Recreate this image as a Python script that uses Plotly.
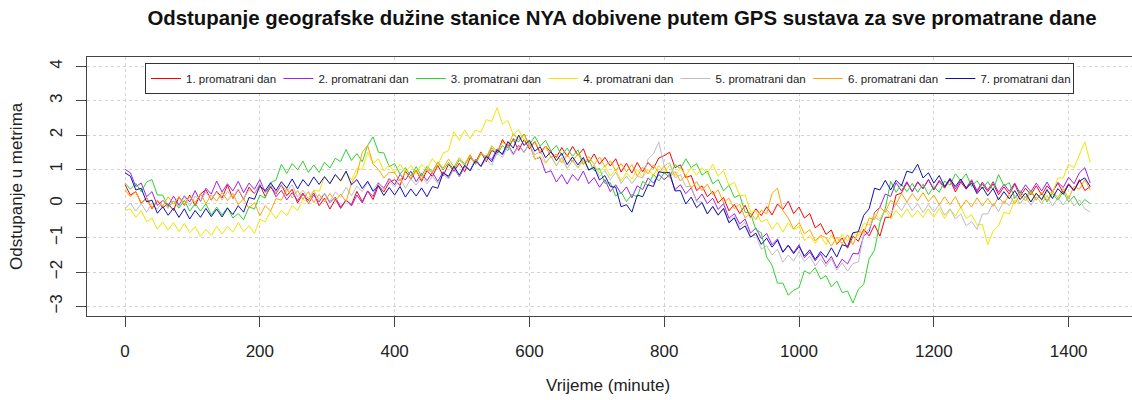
import plotly.graph_objects as go

minutes = list(range(0, 1440, 8))

day1 = [0.55, 0.25, 0.35, 0.01, 0.17, -0.15, 0.09, -0.12, 0.0, -0.2,
        0.2, -0.05, 0.25, -0.06, 0.28, 0.41, 0.1, 0.36, 0.17, 0.54,
        0.15, 0.41, 0.12, 0.48, 0.29, 0.55, 0.21, 0.48, 0.29, 0.55,
        0.23, 0.42, 0.02, 0.28, 0.09, 0.31, -0.06, 0.16, -0.16, 0.13,
        -0.14, 0.1, -0.03, 0.36, 0.06, 0.37, 0.12, 0.53, 0.34, 0.62,
        0.7, 0.53, 0.96, 0.71, 0.98, 0.65, 0.97, 0.79, 1.12, 0.81,
        1.15, 0.94, 1.18, 0.93, 1.34, 1.2, 1.51, 1.22, 1.55, 1.46,
        1.87, 1.62, 1.88, 1.55, 1.87, 1.6, 1.81, 1.47, 1.68, 1.49,
        1.35, 1.64, 1.38, 1.67, 1.41, 1.6, 1.2, 1.45, 1.15, 1.35,
        1.1, 1.31, 0.92, 1.18, 0.89, 1.2, 0.93, 1.2, 1.03, 1.33,
        1.4, 1.5, 1.05, 1.13, 0.76, 0.82, 0.38, 0.52, 0.2, 0.36,
        0.02, 0.18, -0.21, -0.02, -0.29, -0.05, -0.4, -0.15, -0.35, -0.09,
        -0.33, -0.01, -0.17, 0.07, -0.29, -0.1, -0.42, -0.29, -0.71, -0.58,
        -0.9, -0.77, -1.19, -1.0, -1.3, -0.95, -1.1, -0.75, -0.94, -0.62,
        -0.95, -0.4, -0.4, 0.25, 0.31, 0.61, 0.35, 0.64, 0.45, 0.7,
        0.4, 0.65, 0.45, 0.7, 0.34, 0.63, 0.42, 0.66, 0.34, 0.58,
        0.35, 0.58, 0.26, 0.49, 0.28, 0.57, 0.21, 0.45, 0.26, 0.52,
        0.25, 0.52, 0.34, 0.6, 0.32, 0.58, 0.39, 0.7, 0.38, 0.5]

day2 = [1.0, 0.9, 0.5, 0.6, 0.2, 0.35, -0.05, 0.1, -0.07, 0.22,
        -0.05, 0.23, 0.05, 0.38, 0.06, 0.45, 0.28, 0.66, 0.34, 0.58,
        0.37, 0.65, 0.32, 0.6, 0.42, 0.7, 0.33, 0.52, 0.2, 0.39,
        0.11, 0.32, 0.09, 0.31, 0.0, 0.25, 0.05, 0.3, 0.03, 0.19,
        -0.1, 0.11, -0.07, 0.25, 0.02, 0.37, 0.21, 0.6, 0.45, 0.73,
        0.55, 0.85, 0.69, 0.95, 0.64, 0.88, 0.67, 0.91, 0.65, 0.93,
        0.75, 1.04, 0.78, 1.09, 0.97, 1.3, 1.08, 1.41, 1.28, 1.6,
        1.42, 1.73, 1.45, 1.7, 1.5, 1.75, 1.3, 1.35, 0.9, 0.96,
        0.63, 0.85, 0.57, 0.85, 0.67, 0.95, 0.58, 0.76, 0.48, 0.7,
        0.35, 0.55, 0.29, 0.49, 0.17, 0.52, 0.41, 0.75, 0.6, 0.85,
        0.7, 0.84, 0.41, 0.55, 0.29, 0.46, 0.08, 0.28, 0.0, 0.16,
        -0.17, 0.0, -0.43, -0.29, -0.59, -0.45, -0.86, -0.71, -1.02, -0.87,
        -1.2, -1.03, -1.41, -1.21, -1.43, -1.2, -1.58, -1.41, -1.67, -1.46,
        -1.75, -1.54, -1.88, -1.62, -1.76, -1.45, -1.47, -0.94, -0.82, -0.26,
        -0.1, 0.28, 0.21, 0.61, 0.37, 0.64, 0.35, 0.62, 0.43, 0.7,
        0.42, 0.68, 0.48, 0.74, 0.43, 0.68, 0.46, 0.7, 0.38, 0.63,
        0.4, 0.64, 0.33, 0.57, 0.36, 0.6, 0.3, 0.55, 0.35, 0.6,
        0.37, 0.63, 0.34, 0.62, 0.47, 0.77, 0.58, 0.9, 1.05, 0.6]

day3 = [0.6, 0.42, 0.59, 0.35, 0.63, 0.7, 0.25, 0.25, -0.1, 0.08,
        -0.13, 0.1, -0.22, 0.0, -0.22, 0.0, -0.33, -0.1, -0.33, -0.11,
        -0.42, -0.29, -0.47, -0.09, -0.16, 0.25, 0.16, 0.61, 0.69, 1.15,
        0.88, 1.17, 0.99, 1.24, 0.91, 1.13, 0.91, 1.21, 1.04, 1.32,
        1.23, 1.58, 1.26, 1.46, 1.22, 1.7, 1.95, 1.5, 1.48, 1.08,
        1.17, 0.86, 1.05, 0.8, 1.08, 0.81, 1.09, 0.93, 1.21, 0.98,
        1.2, 0.99, 1.28, 1.12, 1.41, 1.15, 1.46, 1.32, 1.63, 1.44,
        1.7, 1.55, 1.9, 1.8, 2.03, 1.72, 1.96, 1.68, 1.85, 1.53,
        1.7, 1.41, 1.62, 1.38, 1.57, 1.15, 1.28, 0.96, 1.03, 0.59,
        0.61, 0.22, 0.34, 0.06, 0.27, 0.2, 0.65, 0.53, 0.86, 0.66,
        0.9, 0.77, 1.14, 1.02, 1.31, 1.05, 1.17, 0.83, 0.95, 0.58,
        0.7, 0.37, 0.54, 0.18, 0.25, -0.25, -0.28, -0.76, -0.85, -1.56,
        -1.8, -2.32, -2.32, -2.67, -2.53, -2.45, -1.96, -2.05, -1.87, -2.2,
        -2.1, -2.43, -2.26, -2.6, -2.55, -2.9, -2.5, -2.35, -1.61, -1.36,
        -0.55, -0.15, 0.65, 0.33, 0.56, 0.35, 0.59, 0.33, 0.57, 0.26,
        0.5, 0.33, 0.66, 0.54, 0.87, 0.67, 0.87, 0.5, 0.67, 0.43,
        0.64, 0.4, 0.85, 0.52, 0.61, 0.15, 0.38, 0.16, 0.39, 0.12,
        0.3, 0.05, 0.3, 0.1, 0.35, 0.05, 0.22, -0.06, 0.12, 0.0]

day4 = [-0.2, -0.15, -0.4, -0.2, -0.53, -0.42, -0.75, -0.53, -0.77, -0.55,
        -0.82, -0.58, -0.85, -0.67, -0.95, -0.75, -0.93, -0.66, -0.89, -0.66,
        -0.83, -0.55, -0.82, -0.64, -0.87, -0.46, -0.53, -0.22, -0.43, -0.2,
        -0.35, -0.06, -0.2, 0.13, 0.02, 0.4, 0.36, 0.77, 0.61, 0.83,
        0.65, 0.91, 0.69, 1.02, 1.0, 1.5, 1.18, 1.31, 0.96, 1.13,
        0.9, 1.15, 0.91, 1.12, 0.88, 1.15, 1.0, 1.32, 1.12, 1.47,
        1.55, 2.1, 1.85, 2.15, 1.9, 2.15, 2.08, 2.45, 2.4, 2.8,
        2.32, 2.43, 2.01, 2.16, 1.85, 1.82, 1.29, 1.38, 1.16, 1.39,
        1.12, 1.35, 1.03, 1.25, 1.03, 1.25, 0.97, 1.13, 0.9, 1.11,
        0.8, 1.01, 0.66, 0.9, 0.72, 1.0, 0.77, 1.0, 0.82, 1.11,
        0.9, 1.13, 0.81, 1.04, 0.82, 1.05, 0.83, 1.05, 0.88, 1.15,
        0.8, 0.97, 0.53, 0.62, 0.24, 0.25, -0.24, -0.22, -0.54, -0.45,
        -0.75, -0.55, -0.83, -0.56, -0.76, -0.67, -1.08, -0.93, -1.16, -0.93,
        -1.2, -0.91, -1.17, -0.9, -1.1, -0.85, -0.94, -0.58, -0.63, -0.3,
        -0.45, -0.17, -0.45, -0.2, -0.4, -0.15, -0.4, -0.2, -0.4, -0.15,
        -0.4, -0.14, -0.43, -0.17, -0.36, -0.1, -0.43, -0.32, -0.62, -0.6,
        -1.2, -0.8, -0.65, -0.25, -0.3, 0.1, 0.0, 0.22, 0.05, 0.32,
        0.08, 0.35, 0.3, 0.75, 0.75, 1.15, 1.05, 1.45, 1.8, 1.2]

day5 = [-0.15, 0.02, -0.22, 0.0, -0.25, 0.02, -0.17, 0.09, -0.14, 0.08,
        -0.08, 0.2, -0.07, 0.22, 0.06, 0.34, 0.12, 0.34, 0.1, 0.36,
        0.17, 0.43, 0.14, 0.41, 0.28, 0.59, 0.39, 0.58, 0.32, 0.56,
        0.35, 0.55, 0.19, 0.39, 0.15, 0.38, 0.12, 0.3, 0.07, 0.34,
        0.19, 0.48, 0.23, 0.51, 0.35, 0.63, 0.4, 0.63, 0.41, 0.68,
        0.48, 0.74, 0.45, 0.72, 0.54, 0.81, 0.58, 0.8, 0.59, 0.86,
        0.72, 1.03, 0.79, 1.12, 0.98, 1.28, 1.07, 1.3, 1.12, 1.47,
        1.35, 1.68, 1.41, 1.68, 1.49, 1.75, 1.42, 1.54, 1.21, 1.38,
        1.1, 1.34, 1.03, 1.27, 1.06, 1.3, 0.98, 1.11, 0.79, 0.97,
        0.7, 0.92, 0.59, 0.81, 0.58, 0.8, 0.75, 1.3, 1.45, 1.8,
        1.1, 1.2, 0.75, 0.85, 0.5, 0.5, 0.05, 0.05, -0.3, -0.1,
        -0.35, -0.15, -0.53, -0.37, -0.67, -0.55, -0.96, -0.92, -1.33, -1.23,
        -1.5, -1.33, -1.71, -1.5, -1.68, -1.4, -1.69, -1.53, -1.82, -1.61,
        -1.83, -1.61, -1.94, -1.73, -1.97, -1.75, -1.7, -0.9, -0.73, -0.38,
        -0.5, -0.13, -0.31, 0.0, -0.2, 0.05, -0.2, 0.0, -0.26, -0.02,
        -0.25, -0.02, -0.34, -0.15, -0.45, -0.3, -0.65, -0.52, -0.75, -0.3,
        -0.3, 0.01, -0.23, 0.08, -0.06, 0.25, 0.0, 0.2, -0.05, 0.2,
        0.0, 0.24, -0.07, 0.17, -0.04, 0.2, -0.07, 0.11, -0.15, -0.25]

day6 = [0.4, 0.2, 0.35, 0.0, 0.17, -0.12, 0.1, -0.07, 0.2, -0.02,
        0.2, -0.04, 0.22, 0.03, 0.29, 0.0, 0.26, 0.07, 0.33, 0.09,
        0.3, -0.03, 0.14, -0.14, 0.03, -0.35, -0.06, -0.22, 0.15, 0.1,
        0.45, 0.17, 0.38, 0.13, 0.35, 0.03, 0.27, 0.05, 0.3, 0.07,
        0.28, 0.05, 0.6, 0.85, 1.5, 1.7, 1.15, 1.0, 0.75, 0.92,
        0.9, 0.66, 0.92, 0.73, 0.99, 0.7, 1.02, 0.9, 1.22, 1.04,
        1.3, 1.07, 1.34, 1.16, 1.43, 1.15, 1.48, 1.36, 1.69, 1.52,
        1.8, 1.67, 2.04, 1.86, 2.03, 1.65, 1.81, 1.52, 1.68, 1.34,
        1.45, 1.19, 1.43, 1.22, 1.46, 1.15, 1.37, 1.14, 1.36, 1.08,
        1.25, 0.96, 1.17, 0.93, 1.14, 0.8, 1.06, 0.87, 1.13, 0.89,
        1.1, 0.77, 0.94, 0.66, 0.83, 0.45, 0.64, 0.38, 0.57, 0.26,
        0.4, 0.03, 0.16, -0.15, -0.01, -0.42, -0.28, -0.47, -0.19, -0.3,
        0.3, 0.45, -0.2, -0.42, -0.74, -0.55, -0.88, -0.76, -1.09, -0.92,
        -1.0, -1.24, -0.98, -1.17, -0.91, -1.2, -0.81, -0.86, -0.42, -0.46,
        -0.1, -0.25, 0.1, -0.02, 0.3, 0.05, 0.29, 0.08, 0.32, 0.06,
        0.25, -0.03, 0.2, -0.03, 0.2, -0.12, 0.11, -0.1, 0.17, -0.07,
        0.15, -0.08, 0.19, 0.0, 0.27, -0.01, 0.26, 0.08, 0.34, 0.1,
        0.32, 0.09, 0.36, 0.17, 0.44, 0.15, 0.5, 0.42, 0.7, 0.4]

day7 = [0.9, 0.8, 0.4, 0.45, 0.05, 0.1, -0.28, -0.09, -0.34, -0.13,
        -0.4, -0.15, -0.45, -0.2, -0.4, -0.14, -0.38, -0.16, -0.39, -0.13,
        -0.32, -0.06, -0.25, 0.18, 0.13, 0.51, 0.38, 0.61, 0.38, 0.64,
        0.45, 0.72, 0.43, 0.7, 0.51, 0.78, 0.56, 0.79, 0.58, 0.85,
        0.67, 0.95, 0.55, 0.7, 0.44, 0.65, 0.36, 0.51, 0.24, 0.47,
        0.25, 0.5, 0.19, 0.43, 0.22, 0.46, 0.2, 0.5, 0.45, 0.9,
        0.8, 1.09, 0.83, 1.12, 0.96, 1.25, 1.09, 1.38, 1.22, 1.56,
        1.45, 1.81, 1.62, 2.0, 1.7, 1.85, 1.53, 1.66, 1.34, 1.52,
        1.25, 1.47, 1.14, 1.36, 1.13, 1.35, 0.98, 1.06, 0.69, 0.82,
        0.5, 0.48, -0.09, -0.03, -0.25, 0.25, 0.2, 0.55, 0.5, 0.93,
        0.9, 0.91, 0.37, 0.38, -0.01, 0.19, -0.12, 0.03, -0.3, -0.08,
        -0.33, -0.14, -0.56, -0.42, -0.76, -0.65, -0.98, -0.86, -1.19, -1.01,
        -1.27, -1.07, -1.42, -1.22, -1.46, -1.25, -1.53, -1.35, -1.63, -1.4,
        -1.57, -1.29, -1.56, -1.2, -1.25, -0.85, -0.82, -0.34, -0.15, 0.45,
        0.4, 0.68, 0.4, 0.68, 0.52, 0.95, 0.9, 1.15, 0.75, 0.9,
        0.6, 0.82, 0.5, 0.72, 0.5, 0.72, 0.45, 0.6, 0.29, 0.48,
        0.23, 0.44, 0.11, 0.35, 0.14, 0.38, 0.12, 0.31, 0.05, 0.3,
        0.12, 0.41, 0.15, 0.44, 0.27, 0.55, 0.38, 0.66, 0.75, 0.5]

series_names = ["1. promatrani dan", "2. promatrani dan", "3. promatrani dan",
                "4. promatrani dan", "5. promatrani dan", "6. promatrani dan",
                "7. promatrani dan"]
series_values = [day1, day2, day3, day4, day5, day6, day7]
series_colors = ["#FF0000", "#A020F0", "#2FD22F", "#F2E600", "#BEBEBE", "#FFA500", "#1010B0"]

x_ticks = [0, 200, 400, 600, 800, 1000, 1200, 1400]
y_ticks = [-3, -2, -1, 0, 1, 2, 3, 4]

FONT = "Liberation Sans, Arial, sans-serif"
W, H = 1132, 400
L, R, T, B = 87, 0, 57, 84  # plot area: x 87..1132, y 57..316
PW, PH = W - L - R, H - T - B

fig = go.Figure()
for name, vals, col in zip(series_names, series_values, series_colors):
    fig.add_trace(go.Scatter(x=minutes, y=vals, mode="lines", name=name,
                             line=dict(color=col, width=1)))

fig.update_layout(
    width=W, height=H,
    margin=dict(l=L, r=R, t=T, b=B, autoexpand=False),
    paper_bgcolor="white", plot_bgcolor="white",
    font=dict(family=FONT, size=17, color="#222222"),
    title=dict(text="<b>Odstupanje geografske dužine stanice NYA dobivene putem GPS sustava za sve promatrane dane</b>",
               x=622 / W, xanchor="center", xref="container",
               y=1 - 18 / H, yanchor="middle", yref="container",
               font=dict(family=FONT, size=20.4, color="#111111")),
    showlegend=True,
    legend=dict(orientation="h", x=(145 - L) / PW, y=1 - (63 - T) / PH,
                xanchor="left", yanchor="top",
                bgcolor="white", bordercolor="#333333", borderwidth=1,
                font=dict(family=FONT, size=11.5, color="#222222"),
                entrywidth=87.4, entrywidthmode="pixels", itemwidth=30,
                traceorder="normal", tracegroupgap=0),
    xaxis=dict(range=[-56.4, 1494], tickvals=x_ticks, ticks="outside", ticklen=10,
               tickcolor="#444444", showline=True, linecolor="#444444", linewidth=1,
               mirror=True, showgrid=True, gridcolor="#d3d3d3", griddash="dot",
               gridwidth=1, zeroline=False, tickfont=dict(size=17),
               ticklabelstandoff=10, automargin=False),
    yaxis=dict(range=[-3.28, 4.28], tickvals=y_ticks, ticks="outside", ticklen=10,
               tickcolor="#444444", showline=True, linecolor="#444444", linewidth=1,
               mirror=False, showgrid=True, gridcolor="#d3d3d3", griddash="dot",
               gridwidth=1, zeroline=False, tickangle=-90, tickfont=dict(size=17),
               ticklabelstandoff=7, automargin=False),
    annotations=[
        dict(text="Vrijeme (minute)", xref="paper", yref="paper",
             x=(608 - L) / PW, y=-(385 - (H - B)) / PH,
             xanchor="center", yanchor="middle", showarrow=False,
             font=dict(family=FONT, size=17, color="#222222")),
        dict(text="Odstupanje u metrima", xref="paper", yref="paper",
             x=-(L - 16) / PW, y=1 - (186 - T) / PH,
             xanchor="center", yanchor="middle", textangle=-90, showarrow=False,
             font=dict(family=FONT, size=17, color="#222222")),
    ],
)

fig.write_html("out.html", config={"displayModeBar": False, "staticPlot": True},
               post_script="document.body.style.margin='0';document.body.style.padding='0';")
